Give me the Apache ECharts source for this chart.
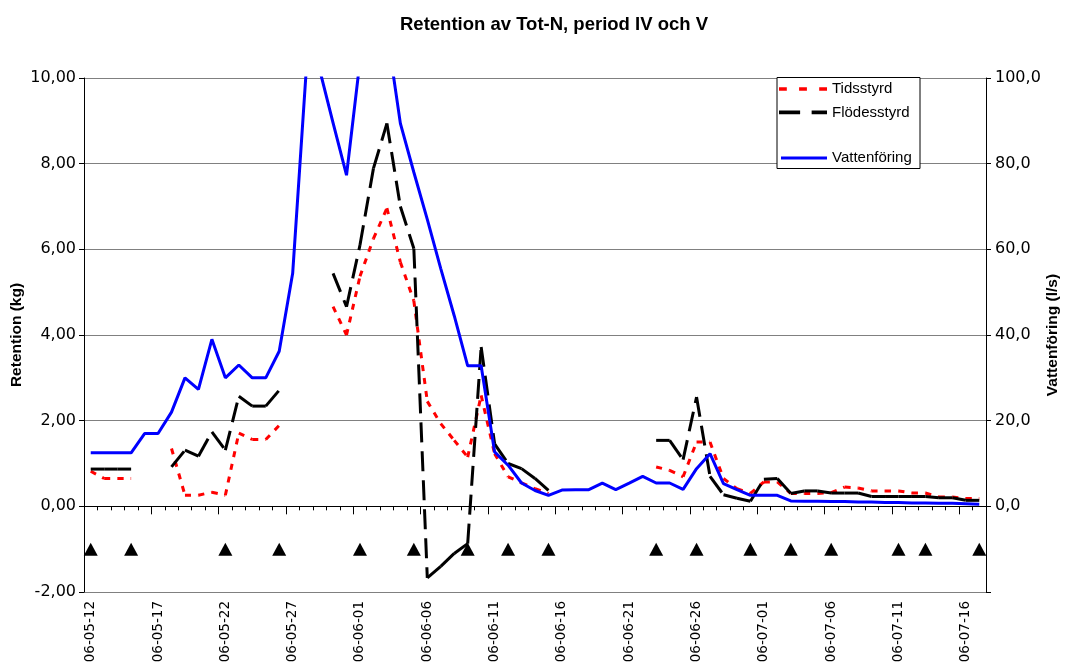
<!DOCTYPE html>
<html>
<head>
<meta charset="utf-8">
<script src="https://cdn.jsdelivr.net/npm/echarts@6/dist/echarts.min.js"></script>
<style>
  html, body { margin: 0; padding: 0; background: #fff; }
  #chart { width: 1066px; height: 665px; }
</style>
</head>
<body>
<div id="chart"></div>
<script>
// dagar 06-05-12 .. 06-07-17
const dates = [
  '06-05-12','06-05-13','06-05-14','06-05-15','06-05-16','06-05-17','06-05-18','06-05-19','06-05-20','06-05-21',
  '06-05-22','06-05-23','06-05-24','06-05-25','06-05-26','06-05-27','06-05-28','06-05-29','06-05-30','06-05-31',
  '06-06-01','06-06-02','06-06-03','06-06-04','06-06-05','06-06-06','06-06-07','06-06-08','06-06-09','06-06-10',
  '06-06-11','06-06-12','06-06-13','06-06-14','06-06-15','06-06-16','06-06-17','06-06-18','06-06-19','06-06-20',
  '06-06-21','06-06-22','06-06-23','06-06-24','06-06-25','06-06-26','06-06-27','06-06-28','06-06-29','06-06-30',
  '06-07-01','06-07-02','06-07-03','06-07-04','06-07-05','06-07-06','06-07-07','06-07-08','06-07-09','06-07-10',
  '06-07-11','06-07-12','06-07-13','06-07-14','06-07-15','06-07-16','06-07-17'
]

// Retention (kg)
const tidsstyrd = [
  0.82, 0.65, 0.65, 0.65, null, null, 1.35, 0.26, 0.26, 0.33,
  0.26, 1.71, 1.56, 1.56, 1.89, null, null, null, 4.66, 4.0,
  5.37, 6.25, 6.96, 5.7, 4.8, 2.45, 1.93, 1.54, 1.15, 2.59,
  1.23, 0.69, 0.55, 0.41, 0.3, null, null, null, null, null,
  null, null, 0.92, 0.84, 0.69, 1.5, 1.5, 0.65, 0.41, 0.3,
  0.57, 0.57, 0.3, 0.3, 0.3, 0.32, 0.45, 0.43, 0.36, 0.36,
  0.36, 0.31, 0.31, 0.22, 0.22, 0.18, 0.18
]
const flodesstyrd = [
  0.87, 0.87, 0.87, 0.87, null, null, 0.92, 1.31, 1.17, 1.74,
  1.31, 2.57, 2.34, 2.34, 2.71, null, null, null, 5.44, 4.66,
  6.1, 7.89, 8.94, 7.0, 6.02, -1.67, -1.4, -1.1, -0.87, 3.72,
  1.46, 1.0, 0.88, 0.65, 0.37, null, null, null, null, null,
  null, null, 1.54, 1.54, 1.09, 2.55, 0.7, 0.27, 0.19, 0.12,
  0.63, 0.65, 0.3, 0.36, 0.36, 0.31, 0.31, 0.31, 0.23, 0.23,
  0.23, 0.23, 0.23, 0.2, 0.2, 0.14, 0.14
]
// Vattenföring (l/s)
const vattenforing = [
  12.5, 12.5, 12.5, 12.5, 17.0, 17.0, 22.0, 30.0, 27.3, 39.0,
  30.0, 33.0, 30.0, 30.0, 36.2, 54.4, 101.5, 102, 89.5, 77.3,
  104, 108, 111, 89.4, 78, 67, 55.5, 44.5, 32.8, 32.8,
  12.7, 9.6, 5.45, 3.7, 2.57, 3.8, 3.9, 3.9, 5.4, 3.9,
  5.4, 7.0, 5.45, 5.45, 3.97, 8.8, 12.3, 5.3, 3.9, 2.57,
  2.57, 2.57, 1.25, 1.2, 1.2, 1.1, 1.1, 1.0, 1.0, 0.9,
  0.9, 0.8, 0.8, 0.7, 0.7, 0.6, 0.5
]
// provtagningar (trianglar)
const provDatum = [
  '06-05-12','06-05-15','06-05-22','06-05-26','06-06-01','06-06-05','06-06-09','06-06-12','06-06-15',
  '06-06-23','06-06-26','06-06-30','06-07-03','06-07-06','06-07-11','06-07-13','06-07-17'
]
const provNiva = -1

const font = 'Liberation Sans, Arial, sans-serif'
const wide = 'DejaVu Sans, sans-serif'
const comma = (v, d) => v.toFixed(d).replace('.', ',')

// Excel-like: dash pattern restarts on every segment
function segmentSeries (name, values, color, dash) {
  return {
    name: name,
    type: 'custom',
    xAxisIndex: 0,
    yAxisIndex: 0,
    z: 3,
    itemStyle: { color: color },
    data: values.map((v, i) => [i, v]),
    encode: { x: 0, y: 1 },
    renderItem: function (params, api) {
      const i = params.dataIndex
      const a = values[i]
      const b = values[i + 1]
      if (a == null || b == null) return null
      const p0 = api.coord([i, a])
      const p1 = api.coord([i + 1, b])
      return {
        type: 'line',
        shape: { x1: p0[0], y1: p0[1], x2: p1[0], y2: p1[1] },
        style: { stroke: color, lineWidth: 3, lineDash: dash, lineCap: 'butt' }
      }
    }
  }
}

var myChart = echarts.init(document.getElementById('chart'))
var option = {
  animation: false,
  backgroundColor: '#fff',
  title: {
    text: 'Retention av Tot-N, period IV och V',
    left: 549,
    top: 10,
    textAlign: 'center',
    textStyle: { fontFamily: font, fontSize: 18.5, fontWeight: 'bold', color: '#000' }
  },
  legend: [
    {
      orient: 'vertical',
      left: 779,
      top: 81,
      padding: 0,
      itemWidth: 48,
      itemHeight: 4,
      itemGap: 7.4,
      z: 5,
      textStyle: { fontFamily: font, fontSize: 15, color: '#000', lineHeight: 16 },
      data: [
        { name: 'Tidsstyrd', icon: 'path://M0,0h7v3h-7z M18,0h7v3h-7z M36,0h7v3h-7z' },
        { name: 'Flödesstyrd', icon: 'path://M0,0h22v4h-22z M34,0h16v4h-16z' }
      ]
    },
    {
      orient: 'vertical',
      left: 781,
      top: 150,
      padding: 0,
      itemWidth: 46,
      itemHeight: 3,
      z: 5,
      textStyle: { fontFamily: font, fontSize: 15, color: '#000', lineHeight: 16 },
      data: [{ name: 'Vattenföring', icon: 'path://M0,0h46v3h-46z' }]
    }
  ],
  graphic: [{
    type: 'rect',
    z: 3,
    shape: { x: 777, y: 77.5, width: 143, height: 91 },
    style: { fill: '#fff', stroke: '#000', lineWidth: 1 }
  }],
  grid: { left: 84, right: 80, top: 78, bottom: 73, containLabel: false, outerBoundsMode: 'none' },
  xAxis: [
    {
      type: 'category',
      data: dates,
      position: 'bottom',
      axisLine: { onZero: true, onZeroAxisIndex: 0, lineStyle: { color: '#000', width: 1 } },
      axisTick: { show: true, interval: 0, length: 4, lineStyle: { color: '#000' } },
      axisLabel: { show: false },
      splitLine: { show: false }
    },
    {
      type: 'category',
      data: dates,
      position: 'bottom',
      axisLine: { show: false, onZero: false },
      axisTick: { show: false },
      axisLabel: {
        interval: 4,
        rotate: 90,
        margin: 9,
        fontFamily: wide,
        fontSize: 13.5,
        color: '#000'
      },
      splitLine: { show: false }
    },
    {
      type: 'category',
      data: dates,
      position: 'bottom',
      axisLine: { show: false, onZero: true, onZeroAxisIndex: 0 },
      axisTick: { show: true, interval: 4, length: 8, lineStyle: { color: '#000' } },
      axisLabel: { show: false },
      splitLine: { show: false }
    }
  ],
  yAxis: [
    {
      type: 'value',
      min: -2,
      max: 10,
      interval: 2,
      name: 'Retention (kg)',
      nameLocation: 'middle',
      nameGap: 59,
      nameMoveOverlap: false,
      nameTextStyle: { fontFamily: font, fontSize: 15.5, fontWeight: 'bold', color: '#000' },
      axisLine: { show: true, lineStyle: { color: '#000' } },
      axisTick: { show: true, length: 5, lineStyle: { color: '#000' } },
      axisLabel: { fontFamily: wide, fontSize: 16, color: '#000', margin: 8, formatter: v => comma(v, 2) },
      splitLine: { show: true, lineStyle: { color: '#808080', width: 1 } }
    },
    {
      type: 'value',
      min: -20,
      max: 100,
      interval: 20,
      position: 'right',
      name: 'Vattenföring (l/s)',
      nameLocation: 'middle',
      nameGap: 59,
      nameMoveOverlap: false,
      nameRotate: 90,
      nameTextStyle: { fontFamily: font, fontSize: 15.5, fontWeight: 'bold', color: '#000' },
      axisLine: { show: true, lineStyle: { color: '#000' } },
      axisTick: { show: true, length: 5, lineStyle: { color: '#000' } },
      axisLabel: { fontFamily: wide, fontSize: 16, color: '#000', margin: 9, formatter: v => (v < 0 ? '' : comma(v, 1)) },
      splitLine: { show: false }
    }
  ],
  series: [
    segmentSeries('Tidsstyrd', tidsstyrd, '#ff0000', [6, 7]),
    segmentSeries('Flödesstyrd', flodesstyrd, '#000000', [20, 9]),
    {
      name: 'Vattenföring',
      type: 'line',
      xAxisIndex: 0,
      yAxisIndex: 1,
      z: 4,
      data: vattenforing,
      symbol: 'none',
      clip: true,
      itemStyle: { color: '#0000ff' },
      lineStyle: { color: '#0000ff', width: 3 }
    },
    {
      name: 'Provtagning',
      type: 'scatter',
      xAxisIndex: 0,
      yAxisIndex: 0,
      z: 3,
      symbol: 'triangle',
      symbolSize: [14, 13],
      itemStyle: { color: '#000', opacity: 1 },
      data: provDatum.map(d => [d, provNiva])
    }
  ]
}
option && myChart.setOption(option)
</script>
</body>
</html>
